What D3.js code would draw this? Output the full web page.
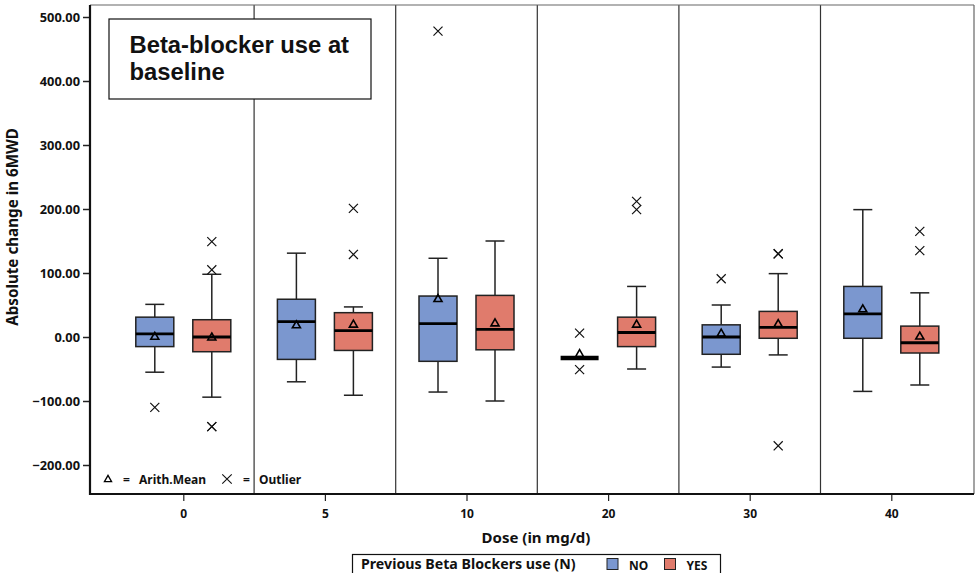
<!DOCTYPE html>
<html>
<head>
<meta charset="utf-8">
<script src="https://cdn.jsdelivr.net/npm/d3@7"></script>
<style>
  html, body { margin: 0; padding: 0; background: #fff; }
  svg { display: block; }
  text { font-family: "Noto Sans", sans-serif; font-weight: bold; fill: #111; }
</style>
</head>
<body>
<svg id="chart" width="976" height="573"></svg>
<script>
const doses = ["0", "5", "10", "20", "30", "40"];
const yTicks = [-200, -100, 0, 100, 200, 300, 400, 500];
const groups = ["NO", "YES"];

// Previous beta blockers use = NO
const noLow      = [-55, -70, -86, -33, -47, -85];
const noQ1       = [-15, -35, -38, -33, -27, -2];
const noMedian   = [5, 24, 21, -33, 0, 36];
const noQ3       = [31, 59, 64, -33, 19, 79];
const noHigh     = [51, 131, 123, -33, 50, 199];
const noMean     = [0, 18, 59, -27, 5, 43];
const noOutliers = [[-110], [], [478], [6, -51], [91], []];

// Previous beta blockers use = YES
const yesLow      = [-94, -91, -100, -50, -28, -75];
const yesQ1       = [-23, -21, -20, -15, -2, -25];
const yesMedian   = [0, 10, 12, 7, 15, -9];
const yesQ3       = [27, 38, 65, 31, 40, 17];
const yesHigh     = [98, 47, 150, 79, 99, 69];
const yesMean     = [-1, 19, 21, 19, 20, 0.5];
const yesOutliers = [[149, 105, -140, -140], [201, 129], [], [212, 199], [130, 130, -170], [165, 135]];

const colors = { NO: "#7b97cf", YES: "#e07b6c" };

const svg = d3.select("#chart");
const frame = { left: 90, right: 974, top: 5, bottom: 494 };

const x = d3.scalePoint().domain(doses).range([183.3, 891.3]);
const y = d3.scaleLinear().domain([-200, 500]).range([465, 17]);
const offset = d3.scalePoint().domain(groups).range([-28.5, 28.5]);
const boxW = 38, capW = 19;

function buildRows(g, low, q1, med, q3, high, mean, outs) {
  return doses.map((d, i) => ({ dose: d, group: g, low: low[i], q1: q1[i], med: med[i], q3: q3[i], high: high[i], mean: mean[i], outs: outs[i] }));
}
const rows = buildRows("NO", noLow, noQ1, noMedian, noQ3, noHigh, noMean, noOutliers)
  .concat(buildRows("YES", yesLow, yesQ1, yesMedian, yesQ3, yesHigh, yesMean, yesOutliers));

svg.append("rect").attr("x", frame.left).attr("y", frame.top)
  .attr("width", frame.right - frame.left).attr("height", frame.bottom - frame.top)
  .attr("fill", "#fff");

// dividers between dose panels
const divs = doses.slice(1).map((d, i) => (x(doses[i]) + x(d)) / 2);
svg.append("g").selectAll("line").data(divs).join("line")
  .attr("x1", d => d).attr("x2", d => d)
  .attr("y1", frame.top).attr("y2", frame.bottom)
  .attr("stroke", "#333").attr("stroke-width", 1.2);

// Boxes
const bg = svg.append("g").selectAll("g").data(rows).join("g")
  .attr("transform", d => `translate(${x(d.dose) + offset(d.group)},0)`);

bg.append("line").attr("x1", 0).attr("x2", 0)
  .attr("y1", d => y(d.high)).attr("y2", d => y(d.q3))
  .attr("stroke", "#222").attr("stroke-width", 1.5);
bg.append("line").attr("x1", 0).attr("x2", 0)
  .attr("y1", d => y(d.q1)).attr("y2", d => y(d.low))
  .attr("stroke", "#222").attr("stroke-width", 1.5);
bg.append("line").attr("x1", -capW / 2).attr("x2", capW / 2)
  .attr("y1", d => y(d.high)).attr("y2", d => y(d.high))
  .attr("stroke", "#222").attr("stroke-width", 1.5);
bg.append("line").attr("x1", -capW / 2).attr("x2", capW / 2)
  .attr("y1", d => y(d.low)).attr("y2", d => y(d.low))
  .attr("stroke", "#222").attr("stroke-width", 1.5);
bg.append("rect").attr("x", -boxW / 2).attr("width", boxW)
  .attr("y", d => y(d.q3)).attr("height", d => Math.max(0, y(d.q1) - y(d.q3)))
  .attr("fill", d => colors[d.group]).attr("stroke", "#222").attr("stroke-width", 1.5);
bg.append("line").attr("x1", -boxW / 2).attr("x2", boxW / 2)
  .attr("y1", d => y(d.med)).attr("y2", d => y(d.med))
  .attr("stroke", "#000").attr("stroke-width", d => d.q1 === d.q3 ? 4.5 : 2.8);

// mean triangles
const tri = d3.symbol().type(d3.symbolTriangle).size(28);
bg.append("path").attr("d", tri)
  .attr("transform", d => `translate(0,${y(d.mean)})`)
  .attr("fill", "none").attr("stroke", "#000").attr("stroke-width", 1.6);

// outliers
const xs = d3.symbol().type(d3.symbolTimes).size(55);
bg.each(function (d) {
  d3.select(this).selectAll("path.out").data(d.outs).join("path")
    .attr("class", "out").attr("d", xs)
    .attr("transform", v => `translate(0,${y(v)})`)
    .attr("fill", "none").attr("stroke", "#111").attr("stroke-width", 1.2);
});

// frame
svg.append("line").attr("x1", frame.left).attr("x2", frame.right).attr("y1", frame.top).attr("y2", frame.top)
  .attr("stroke", "#666").attr("stroke-width", 1.2);
svg.append("line").attr("x1", frame.right).attr("x2", frame.right).attr("y1", frame.top).attr("y2", frame.bottom)
  .attr("stroke", "#666").attr("stroke-width", 1.2);

// Axes
const yAxis = d3.axisLeft(y).tickValues(yTicks).tickFormat(d3.format(".2f")).tickSize(7).tickPadding(3);
const ya = svg.append("g").attr("transform", `translate(${frame.left},0)`).call(yAxis);
ya.select(".domain").remove();
ya.selectAll(".tick line").attr("stroke", "#222").attr("stroke-width", 1.5);
ya.selectAll(".tick text").style("font-size", "12.8px").attr("fill", "#111")
  .style("font-family", "'Noto Sans', sans-serif").style("font-weight", "bold");

const xAxis = d3.axisBottom(x).tickSize(7).tickPadding(8);
const xa = svg.append("g").attr("transform", `translate(0,${frame.bottom})`).call(xAxis);
xa.select(".domain").remove();
xa.selectAll(".tick line").attr("stroke", "#222").attr("stroke-width", 1.2);
xa.selectAll(".tick text").style("font-size", "12px").attr("fill", "#111")
  .style("font-family", "'Noto Sans', sans-serif").style("font-weight", "bold");

svg.append("line").attr("x1", frame.left).attr("x2", frame.left).attr("y1", frame.top).attr("y2", frame.bottom + 1)
  .attr("stroke", "#111").attr("stroke-width", 2.2);
svg.append("line").attr("x1", frame.left - 1).attr("x2", frame.right).attr("y1", frame.bottom).attr("y2", frame.bottom)
  .attr("stroke", "#111").attr("stroke-width", 2.2);

// axis titles
svg.append("text").attr("x", 536).attr("y", 543).attr("text-anchor", "middle")
  .style("font-size", "15px").text("Dose (in mg/d)");
svg.append("text").attr("transform", "translate(18,227) rotate(-90)").attr("text-anchor", "middle")
  .style("font-size", "15.2px").text("Absolute change in 6MWD");

// inset legend
const il = svg.append("g");
il.append("path").attr("d", d3.symbol().type(d3.symbolTriangle).size(22))
  .attr("transform", "translate(108,479.5)").attr("fill", "none").attr("stroke", "#000").attr("stroke-width", 1.3);
il.append("text").attr("x", 123).attr("y", 483.5).style("font-size", "12px").text("=");
il.append("text").attr("x", 139).attr("y", 483.5).style("font-size", "12px").text("Arith.Mean");
il.append("path").attr("d", d3.symbol().type(d3.symbolTimes).size(60))
  .attr("transform", "translate(227,479)").attr("fill", "none").attr("stroke", "#111").attr("stroke-width", 1.1);
il.append("text").attr("x", 243).attr("y", 483.5).style("font-size", "12px").text("=");
il.append("text").attr("x", 259).attr("y", 483.5).style("font-size", "12px").text("Outlier");

// title box
svg.append("rect").attr("x", 109).attr("y", 19).attr("width", 262).attr("height", 80)
  .attr("fill", "#fff").attr("stroke", "#111").attr("stroke-width", 1.2);
const tt = svg.append("text").style("font-family", "'Liberation Sans', Arial, sans-serif")
  .style("font-size", "23.8px").attr("fill", "#000");
tt.append("tspan").attr("x", 129.5).attr("y", 53).text("Beta-blocker use at");
tt.append("tspan").attr("x", 129.5).attr("y", 80).text("baseline");

// bottom legend
const lg = svg.append("g");
lg.append("rect").attr("x", 352.5).attr("y", 554.5).attr("width", 368).attr("height", 30)
  .attr("fill", "#fff").attr("stroke", "#111").attr("stroke-width", 1.2);
lg.append("text").attr("x", 361).attr("y", 569).style("font-size", "14.2px").text("Previous Beta Blockers use (N)");
const swatchX = { NO: 607, YES: 664.5 };
groups.forEach(g => {
  const gx = swatchX[g];
  lg.append("rect").attr("x", gx).attr("y", 558.5).attr("width", 11).attr("height", 11)
    .attr("fill", colors[g]).attr("stroke", "#222").attr("stroke-width", 1);
  lg.append("text").attr("x", gx + 22).attr("y", 569.5).style("font-size", "12px").text(g);
});
</script>
</body>
</html>
